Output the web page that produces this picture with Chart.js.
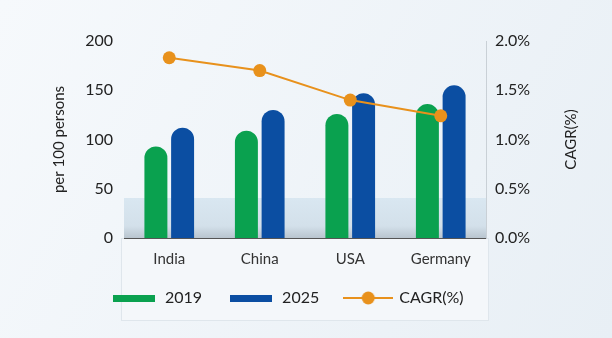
<!DOCTYPE html>
<html>
<head>
<meta charset="utf-8">
<script src="https://cdn.jsdelivr.net/npm/chart.js@4"></script>
<style>
  html, body { margin: 0; padding: 0; background: #edf2f7; }
  #wrap { width: 612px; height: 338px; }
</style>
</head>
<body>
<div id="wrap"><canvas id="chart" width="612" height="338"></canvas></div>
<script>
const countries = ['India', 'China', 'USA', 'Germany'];
const y2019 = [93, 109, 126, 136];
const y2025 = [112, 130, 147, 155];
const cagr = [1.83, 1.70, 1.40, 1.24];
const leftTicks = [0, 50, 100, 150, 200];
const rightTicks = [0, 0.5, 1.0, 1.5, 2.0];

const GREEN = '#0aa14f';
const BLUE = '#0b4ea2';
const ORANGE = '#e8911c';
const FONT = 'Lato, "Noto Sans", sans-serif';

// little canvases used as legend symbols
function barSymbol(color) {
  const c = document.createElement('canvas');
  c.width = 42; c.height = 7;
  const g = c.getContext('2d');
  g.fillStyle = color;
  g.fillRect(0, 0, 42, 7);
  return c;
}
function lineSymbol(color) {
  const c = document.createElement('canvas');
  c.width = 50; c.height = 14;
  const g = c.getContext('2d');
  g.strokeStyle = color;
  g.lineWidth = 2;
  g.beginPath(); g.moveTo(0, 7); g.lineTo(50, 7); g.stroke();
  g.fillStyle = color;
  g.beginPath(); g.arc(25, 7, 6.5, 0, Math.PI * 2); g.fill();
  return c;
}
const symbols = [barSymbol(GREEN), barSymbol(BLUE), lineSymbol(ORANGE)];

// background, lower panel and the pale band under the bars
const backdrop = {
  id: 'backdrop',
  afterLayout(chart) {
    // legend row sits a little left of centre, just under the labels
    chart.legend.left = chart.chartArea.left - 39;
    chart.legend.top -= 4;
  },
  beforeDraw(chart) {
    const { ctx, chartArea: a, width, height } = chart;
    ctx.save();
    const bg = ctx.createLinearGradient(0, 0, width, height);
    bg.addColorStop(0, '#f6f9fc');
    bg.addColorStop(1, '#e8eff5');
    ctx.fillStyle = bg;
    ctx.fillRect(0, 0, width, height);

    // panel holding the category labels and legend
    ctx.fillStyle = '#f4f7fa';
    ctx.fillRect(a.left - 3, a.bottom, a.right - a.left + 5, 82);
    ctx.strokeStyle = '#dfe6ec';
    ctx.lineWidth = 1;
    ctx.strokeRect(a.left - 3 + 0.5, a.bottom + 0.5, a.right - a.left + 5, 82);

    // pale band with a soft shadow at the baseline
    const top = a.bottom - 40;
    const band = ctx.createLinearGradient(0, top, 0, a.bottom);
    band.addColorStop(0, '#d9e7f1');
    band.addColorStop(0.7, '#d3e0ea');
    band.addColorStop(1, '#b9c5cf');
    ctx.fillStyle = band;
    ctx.fillRect(a.left, top, a.right - a.left, a.bottom - top);
    ctx.restore();
  },
  // right axis title reads bottom-to-top like the left one
  afterDraw(chart) {
    const { ctx, chartArea: a } = chart;
    ctx.save();
    ctx.translate(571, (a.top + a.bottom) / 2);
    ctx.rotate(-Math.PI / 2);
    ctx.fillStyle = '#222';
    ctx.font = '15px ' + FONT;
    ctx.textAlign = 'center';
    ctx.textBaseline = 'middle';
    ctx.fillText('CAGR(%)', 0, 0);
    ctx.restore();
  }
};

new Chart(document.getElementById('chart'), {
  type: 'bar',
  data: {
    labels: countries,
    datasets: [
      {
        label: '2019',
        data: y2019,
        backgroundColor: GREEN,
        borderRadius: { topLeft: 12, topRight: 12 },
        borderSkipped: 'bottom',
        categoryPercentage: 0.59,
        barPercentage: 0.86,
        yAxisID: 'y',
        order: 1
      },
      {
        label: '2025',
        data: y2025,
        backgroundColor: BLUE,
        borderRadius: { topLeft: 12, topRight: 12 },
        borderSkipped: 'bottom',
        categoryPercentage: 0.59,
        barPercentage: 0.86,
        yAxisID: 'y',
        order: 1
      },
      {
        type: 'line',
        label: 'CAGR(%)',
        data: cagr,
        borderColor: ORANGE,
        backgroundColor: ORANGE,
        borderWidth: 2,
        pointRadius: 6.5,
        pointBorderWidth: 0,
        pointBackgroundColor: ORANGE,
        tension: 0,
        yAxisID: 'y1',
        order: 0
      }
    ]
  },
  options: {
    responsive: false,
    animation: false,
    layout: { padding: { top: 41, left: 46, right: 26, bottom: 18 } },
    plugins: {
      tooltip: { enabled: false },
      legend: {
        position: 'bottom',
        align: 'start',
        labels: {
          usePointStyle: true,
          pointStyleWidth: 46,
          padding: 26,
          color: '#222',
          font: { family: FONT, size: 16 },
          sort: (a, b) => a.datasetIndex - b.datasetIndex,
          generateLabels(chart) {
            const items = Chart.defaults.plugins.legend.labels.generateLabels(chart);
            items.forEach(it => { it.pointStyle = symbols[it.datasetIndex]; });
            return items;
          }
        }
      }
    },
    scales: {
      x: {
        grid: { display: false, drawTicks: false },
        border: { display: true, color: '#555', width: 1 },
        ticks: { color: '#333', padding: 12, font: { family: FONT, size: 15 } },
        afterFit(s) { s.height = 30; }
      },
      y: {
        position: 'left',
        min: 0, max: 200,
        afterBuildTicks(s) { s.ticks = leftTicks.map(v => ({ value: v })); },
        grid: { display: false, drawTicks: false },
        border: { display: false },
        ticks: { color: '#222', padding: 11, font: { family: FONT, size: 16 } },
        title: { display: true, text: 'per 100 persons', color: '#222', padding: { top: 4, bottom: 0 }, font: { family: FONT, size: 15 } },
        afterFit(s) { s.width = 78; }
      },
      y1: {
        position: 'right',
        min: 0, max: 2,
        afterBuildTicks(s) { s.ticks = rightTicks.map(v => ({ value: v })); },
        grid: { display: false, drawOnChartArea: false, drawTicks: true, tickLength: 6, color: '#aab4bd' },
        border: { display: true, color: '#c9d0d6', width: 1 },
        ticks: { color: '#222', padding: 3, font: { family: FONT, size: 16 }, callback: v => v.toFixed(1) + '%' },
        afterFit(s) { s.width = 100; }
      }
    }
  },
  plugins: [backdrop]
});
</script>
</body>
</html>
